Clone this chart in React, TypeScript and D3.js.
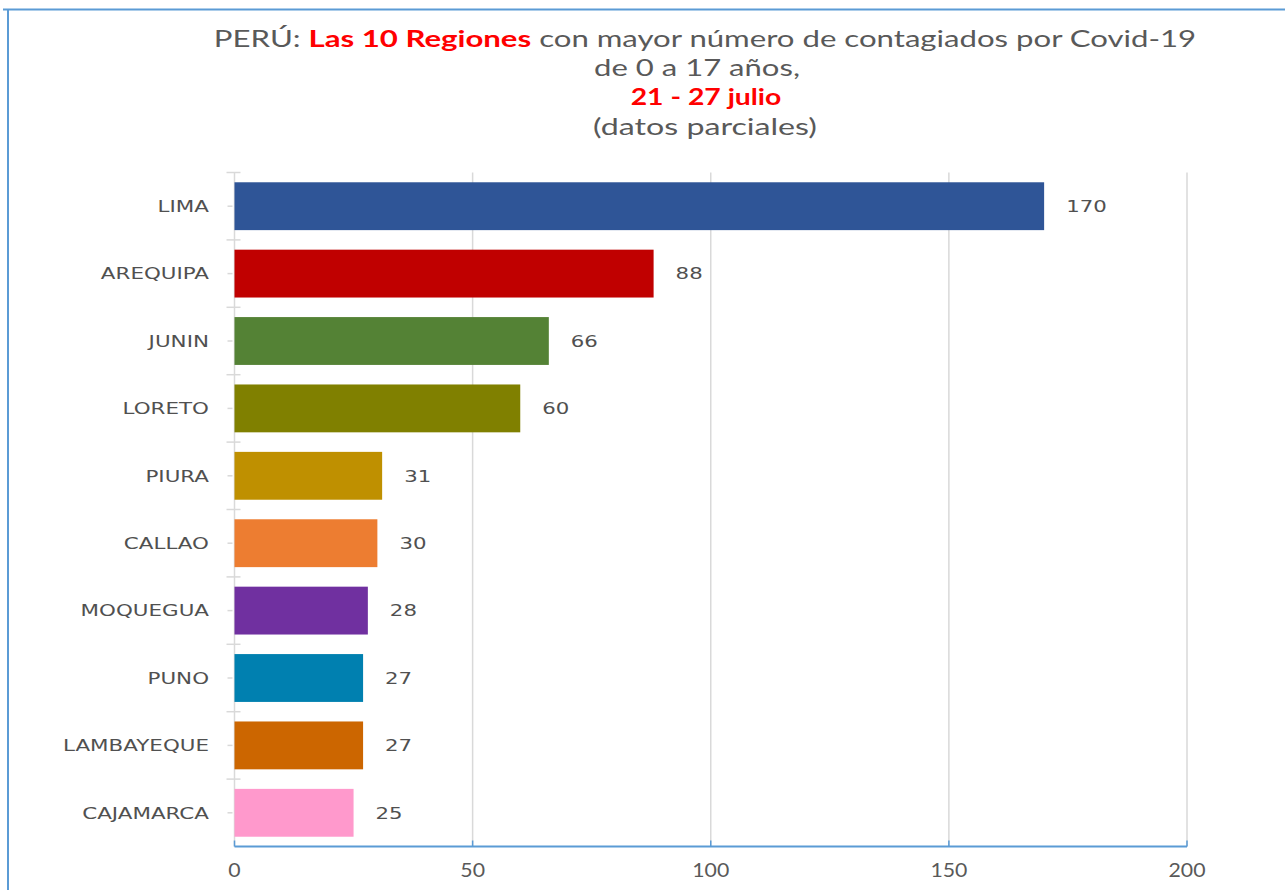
import React from "react";
import * as d3 from "d3";

const regions = ["LIMA", "AREQUIPA", "JUNIN", "LORETO", "PIURA", "CALLAO", "MOQUEGUA", "PUNO", "LAMBAYEQUE", "CAJAMARCA"];
const values = [170, 88, 66, 60, 31, 30, 28, 27, 27, 25];
const colors = ["#2F5597", "#C00000", "#548235", "#808000", "#BF9000", "#ED7D31", "#7030A0", "#0080B0", "#CC6600", "#FF99CC"];
const xTicks = [0, 50, 100, 150, 200];

export default function App() {
  const W = 1285, H = 890;
  const left = 234.5, right = 1187, top = 172.5, bottom = 846.5;
  const x = d3.scaleLinear().domain([0, 200]).range([left, right]);
  const y = d3.scaleBand().domain(regions).range([top, bottom]).paddingInner(0.29).paddingOuter(0.145);
  const step = y.step();
  const titleFont = "Lato, 'Open Sans', sans-serif";
  const labFont = "'DejaVu Sans', Verdana, sans-serif";
  return (
    <svg width={W} height={H} style={{ position: "absolute", left: 0, top: 0, background: "#fff" }}>
      <rect x={0} y={0} width={W} height={H} fill="#fff" />
      <line x1={3} x2={W} y1={9.5} y2={9.5} stroke="#5B9BD5" strokeWidth={2} />
      <line x1={8} x2={8} y1={9} y2={H} stroke="#5B9BD5" strokeWidth={2} />
      <g fontFamily={titleFont} fill="#595959" textAnchor="middle" fontSize={22.5}>
        <text transform={`translate(705,47) scale(1.385,1)`}>
          <tspan>PERÚ: </tspan>
          <tspan fill="#FF0000" fontWeight="bold">Las 10 Regiones</tspan>
          <tspan> con mayor número de contagiados por Covid-19</tspan>
        </text>
        <text transform={`translate(697,76) scale(1.38,1)`}>de 0 a 17 años,</text>
        <text transform={`translate(706,105) scale(1.26,1)`} fill="#FF0000" fontWeight="bold">21 - 27 julio</text>
        <text transform={`translate(705,135) scale(1.43,1)`}>(datos parciales)</text>
      </g>
      {xTicks.slice(1).map((t) => (
        <line key={"g" + t} x1={x(t)} x2={x(t)} y1={top} y2={bottom} stroke="#D9D9D9" strokeWidth={1.5} />
      ))}
      <line x1={left} x2={left} y1={top} y2={bottom} stroke="#D9D9D9" strokeWidth={1.5} />
      {regions.map((r, i) => (
        <g key={"t" + r}>
          <line x1={left - 8} x2={left + 6} y1={top + step * i} y2={top + step * i} stroke="#D9D9D9" strokeWidth={1.5} />
          <line x1={left - 7} x2={left - 2} y1={top + step * (i + 0.5)} y2={top + step * (i + 0.5)} stroke="#D9D9D9" strokeWidth={1.5} />
        </g>
      ))}
      {regions.map((r, i) => (
        <rect key={r} x={x(0)} y={y(r)!} width={x(values[i]) - x(0)} height={y.bandwidth()} fill={colors[i]} />
      ))}
      <line x1={left} x2={right} y1={bottom} y2={bottom} stroke="#5B9BD5" strokeWidth={2} />
      {xTicks.map((t) => (
        <line key={"tk" + t} x1={x(t)} x2={x(t)} y1={bottom - 6} y2={bottom} stroke="#5B9BD5" strokeWidth={1.5} />
      ))}
      <g fontFamily={labFont} fontSize={16} fill="#505050">
        {regions.map((r, i) => (
          <text key={"l" + r} transform={`translate(209,${y(r)! + y.bandwidth() / 2}) scale(1.34,1)`} dy="0.36em" textAnchor="end">{r}</text>
        ))}
        {regions.map((r, i) => (
          <text key={"v" + r} transform={`translate(${x(values[i]) + 22},${y(r)! + y.bandwidth() / 2}) scale(1.33,1)`} dy="0.36em">{values[i]}</text>
        ))}
      </g>
      <g fontFamily={titleFont} fontSize={18.5} fill="#595959" textAnchor="middle">
        {xTicks.map((t) => (
          <text key={"xl" + t} transform={`translate(${x(t)},877) scale(1.15,1)`}>{t}</text>
        ))}
      </g>
    </svg>
  );
}
